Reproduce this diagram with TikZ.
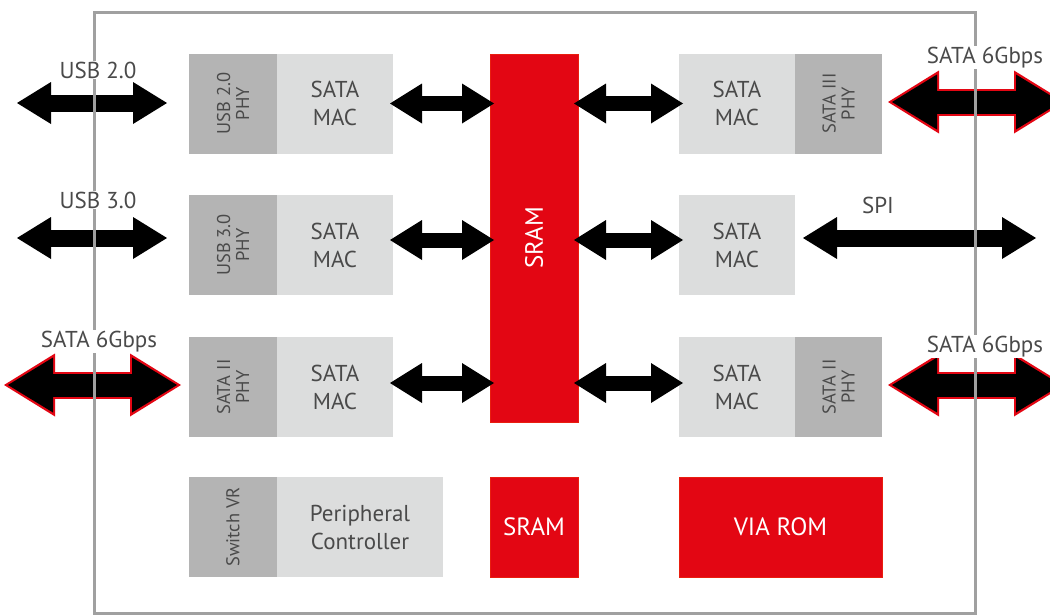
\documentclass[tikz,border=0pt]{standalone}
\usepackage{fontspec}
\setmainfont{PT Sans}
\usetikzlibrary{arrows.meta}
\definecolor{phy}{HTML}{B4B4B4}
\definecolor{mac}{HTML}{DCDDDD}
\definecolor{vred}{HTML}{E30613}
\definecolor{txt}{HTML}{4A4A4A}
\definecolor{framegray}{HTML}{A0A0A0}
\begin{document}
\begin{tikzpicture}[x=1pt,y=-1pt,
  box/.style={inner sep=0pt, outer sep=0pt, text=txt, align=center},
  macbox/.style={box, fill=mac, minimum height=100pt, font=\fontsize{23}{28}\selectfont},
  phybox/.style={box, fill=phy, rotate=90, minimum width=100pt, minimum height=88pt, font=\fontsize{18.5}{19}\selectfont},
  redbox/.style={box, fill=vred, draw=vred!80!orange, line width=0.6pt, text=white, font=\fontsize{25}{28}\selectfont},
  lbl/.style={fill=white, inner sep=1pt, text=txt, anchor=base, font=\fontsize{23}{26}\selectfont},
  smallarr/.style={line width=15pt, arrows={Triangle[length=32pt,width=40pt,line width=0pt]-Triangle[length=32pt,width=40pt,line width=0pt]}},
  blkarr/.style={line width=17pt, arrows={Triangle[length=34pt,width=42pt,line width=0pt]-Triangle[length=34pt,width=42pt,line width=0pt]}},
  redout/.style={draw=vred, line width=27pt, arrows={Triangle[length=51pt,width=63pt,line width=0pt]-Triangle[length=51pt,width=63pt,line width=0pt]}, shorten <=-4pt, shorten >=-4pt},
  redin/.style={draw=black, line width=23pt, arrows={Triangle[length=45pt,width=55pt,line width=0pt]-Triangle[length=45pt,width=55pt,line width=0pt]}}
]
\useasboundingbox (0,0) rectangle (1050,616);

% left column
\node[phybox] (lphy1) at (233,103.5) {USB 2.0\\PHY};
\node[macbox, minimum width=116pt] (lmac1) at (335,103.5) {SATA\\MAC};
\node[phybox] (lphy2) at (233,245) {USB 3.0\\PHY};
\node[macbox, minimum width=116pt] (lmac2) at (335,245) {SATA\\MAC};
\node[phybox] (lphy3) at (233,387) {SATA II\\PHY};
\node[macbox, minimum width=116pt] (lmac3) at (335,387) {SATA\\MAC};
\node[phybox] (svr) at (233,527) {Switch VR};
\node[macbox, minimum width=166pt] (periph) at (360,527) {Peripheral\\Controller};

% SRAM
\node[redbox, rotate=90, minimum width=368pt, minimum height=88pt] (sram) at (534,238) {SRAM};
\node[redbox, minimum width=88pt, minimum height=100pt] (sram2) at (534,527) {SRAM};
\node[redbox, minimum width=203pt, minimum height=100pt] (rom) at (780.5,527) {VIA ROM};

% right column
\node[macbox, minimum width=116pt] (rmac1) at (737,103.5) {SATA\\MAC};
\node[phybox, minimum height=87pt] (rphy1) at (838.5,103.5) {SATA III\\PHY};
\node[macbox, minimum width=116pt] (rmac2) at (737,245) {SATA\\MAC};
\node[macbox, minimum width=116pt] (rmac3) at (737,387) {SATA\\MAC};
\node[phybox, minimum height=87pt] (rphy3) at (838.5,387) {SATA II\\PHY};

% internal arrows (rotated nodes: north = left side, south = right side)
\draw[smallarr] ([xshift=-3pt]lmac1.east) -- ([xshift=4pt]lmac1.east -| sram.north);
\draw[smallarr] ([xshift=-3pt]lmac2.east |- 0,240) -- ([xshift=4pt]sram.north |- 0,240);
\draw[smallarr] ([xshift=-3pt]lmac3.east |- 0,383) -- ([xshift=4pt]sram.north |- 0,383);
\draw[smallarr] ([xshift=-4pt]rmac1.west -| sram.south) -- ([xshift=4pt]rmac1.west);
\draw[smallarr] ([xshift=-4pt]sram.south |- 0,240) -- ([xshift=4pt]rmac2.west |- 0,240);
\draw[smallarr] ([xshift=-4pt]sram.south |- 0,383) -- ([xshift=4pt]rmac3.west |- 0,383);

% external arrows
\coordinate (usb2a) at (17,103);
\coordinate (usb2b) at (167,103);
\coordinate (usb3a) at (17,238);
\coordinate (usb3b) at (167,238);
\coordinate (spib) at (1036,238);
\coordinate (sataLa) at (8,385);
\coordinate (sataLb) at (177,385);
\coordinate (sataR1b) at (1061,102);
\coordinate (sataR3b) at (1061,385);

\draw[blkarr] (usb2a) -- (usb2b);
\draw[blkarr] (usb3a) -- (usb3b);
\draw[blkarr] ([xshift=8pt]rmac2.east |- spib) -- (spib);
\draw[redout] (sataLa) -- (sataLb);
\draw[redin] (sataLa) -- (sataLb);
\draw[redout] ([xshift=10pt]rphy1.south |- sataR1b) -- (sataR1b);
\draw[redin] ([xshift=10pt]rphy1.south |- sataR1b) -- (sataR1b);
\draw[redout] ([xshift=10pt]rphy3.south |- sataR3b) -- (sataR3b);
\draw[redin] ([xshift=10pt]rphy3.south |- sataR3b) -- (sataR3b);

% chip outline
\node[draw=framegray, line width=3pt, inner sep=0pt, minimum width=881pt, minimum height=601pt] (chip) at (534.5,312.5) {};

% labels
\node[lbl] (lusb2) at (98,78) {USB 2.0};
\node[lbl] (lusb3) at (98,208) {USB 3.0};
\node[lbl] (lsataL) at (99,347) {SATA 6Gbps};
\node[lbl] (lsataR1) at (985,63) {SATA 6Gbps};
\node[lbl] (lsataR3) at (985,352) {SATA 6Gbps};
\node[lbl, fill=none] (lspi) at (878,213) {SPI};
\end{tikzpicture}
\end{document}
